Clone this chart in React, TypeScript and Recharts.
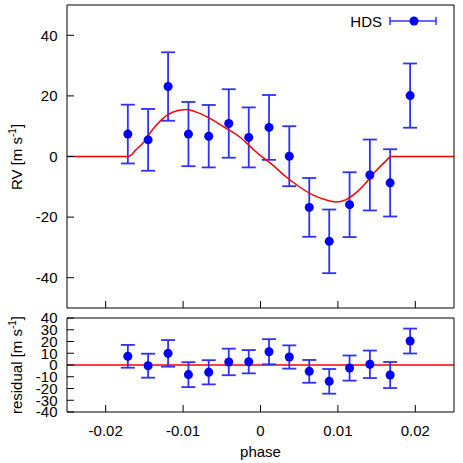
import {
  ComposedChart,
  XAxis,
  YAxis,
  Scatter,
  Line,
  ErrorBar,
  ReferenceLine,
  Legend,
} from 'recharts';

// observed points (HDS)
const phases = [
  -0.01714, -0.01452, -0.01194, -0.00931, -0.00669, -0.0041, -0.00152, 0.0011,
  0.00372, 0.0063, 0.00888, 0.01151, 0.01413, 0.01675, 0.01933,
];
const rvValues = [7.4, 5.5, 23.1, 7.4, 6.7, 10.9, 6.3, 9.6, 0.1, -16.8, -28.0, -15.9, -6.1, -8.7, 20.1];
const rvErrors = [9.7, 10.2, 11.3, 10.6, 10.3, 11.3, 9.9, 10.7, 9.9, 9.7, 10.5, 10.7, 11.7, 11.1, 10.6];
const residuals = [7.4, -0.6, 9.9, -8.2, -6.2, 2.6, 2.8, 11.3, 6.8, -5.4, -13.9, -2.6, 0.6, -8.5, 20.4];

// model curve
const modelPhases = [
  -0.025, -0.01706, -0.0161, -0.01503, -0.01396, -0.01267, -0.01138, -0.00965, -0.00794,
  -0.00622, -0.00449, -0.00277, -0.00106, -0.00019, 0.00152, 0.00325, 0.00497, 0.00668,
  0.00841, 0.0097, 0.011, 0.01228, 0.01357, 0.01486, 0.01615, 0.01688, 0.025,
];
const modelRv = [
  0, 0, 2.2, 4.9, 8.8, 12.4, 14.6, 15.5, 14.3, 12.1, 9.4, 6.6, 2.7, 0.7, -2.7, -6.6, -9.9,
  -12.6, -14.3, -15.0, -14.3, -12.1, -8.8, -4.9, -1.6, 0, 0,
];

const phaseTicks = [-0.02, -0.01, 0, 0.01, 0.02];
const rvTicks = [-40, -20, 0, 20, 40];
const residualTicks = [40, 30, 20, 10, 0, -10, -20, -30, -40];

const rvData = phases.map((p, i) => ({ phase: p, rv: rvValues[i], err: rvErrors[i] }));
const resData = phases.map((p, i) => ({ phase: p, res: residuals[i], err: rvErrors[i] }));
const modelData = modelPhases.map((p, i) => ({ phase: p, rv: modelRv[i] }));

const FONT = '"Liberation Sans", Arial, Helvetica, sans-serif';
const BLUE = '#0000ff';
const BAR = '#3030ff';
const RED = '#ff0000';
const TICK = { fill: '#000', fontSize: 15 };
const noLabel = () => '';

function AxisTitle({ text, cy }: { text: string; cy: number }) {
  const cx = 22;
  return (
    <text
      x={cx}
      y={cy}
      transform={`rotate(-90 ${cx} ${cy})`}
      textAnchor="middle"
      fontSize={15}
      fill="#000"
      fontFamily={FONT}
    >
      {text} [m s
      <tspan dy={-6} fontSize={10}>
        -1
      </tspan>
      <tspan dy={6}>]</tspan>
    </text>
  );
}

function HdsLegend() {
  return (
    <div style={{ display: 'flex', alignItems: 'center', height: 22, fontSize: 15, fontFamily: FONT, color: '#000' }}>
      <span style={{ width: 42, textAlign: 'right' }}>HDS</span>
      <svg width={52} height={22} style={{ marginLeft: 6 }}>
        <line x1={2} x2={48} y1={11} y2={11} stroke={BAR} strokeWidth={1.5} />
        <line x1={2} x2={2} y1={7} y2={15} stroke={BAR} strokeWidth={1.5} />
        <line x1={48} x2={48} y1={7} y2={15} stroke={BAR} strokeWidth={1.5} />
        <circle cx={26} cy={11} r={4.5} fill={BLUE} />
      </svg>
    </div>
  );
}

export default function App() {
  const axisCommon = {
    stroke: '#000',
    tickSize: -7,
    interval: 0 as const,
  };
  return (
    <div style={{ position: 'absolute', left: 0, top: 0, width: 463, height: 463, fontFamily: FONT, background: '#fff' }}>
      <div style={{ position: 'absolute', left: 0, top: 0 }}>
        <ComposedChart width={463} height={312} margin={{ top: 4, right: 8, bottom: 3, left: 0 }}>
          <XAxis
            dataKey="phase"
            type="number"
            domain={[-0.025, 0.025]}
            ticks={phaseTicks}
            height={1}
            tickFormatter={noLabel}
            {...axisCommon}
          />
          <XAxis
            xAxisId="t"
            orientation="top"
            dataKey="phase"
            type="number"
            domain={[-0.025, 0.025]}
            ticks={phaseTicks}
            height={1}
            tickFormatter={noLabel}
            {...axisCommon}
          />
          <YAxis
            type="number"
            domain={[-50, 50]}
            ticks={rvTicks}
            width={67}
            tickMargin={16.5}
            tick={TICK}
            label={<AxisTitle text="RV" cy={157} />}
            {...axisCommon}
          />
          <YAxis
            yAxisId="r"
            orientation="right"
            type="number"
            domain={[-50, 50]}
            ticks={rvTicks}
            width={1}
            tickFormatter={noLabel}
            {...axisCommon}
          />
          <Legend
            layout="horizontal"
            verticalAlign="middle"
            align="center"
            wrapperStyle={{ left: 340, top: 10, width: 110, height: 22 }}
            content={() => <HdsLegend />}
          />
          <Scatter data={rvData} dataKey="rv" fill={BLUE} isAnimationActive={false}>
            <ErrorBar dataKey="err" direction="y" width={7} stroke={BAR} strokeWidth={1.8} isAnimationActive={false} />
          </Scatter>
          <Line
            data={modelData}
            dataKey="rv"
            type="monotone"
            stroke={RED}
            strokeWidth={1.5}
            dot={false}
            activeDot={false}
            isAnimationActive={false}
          />
        </ComposedChart>
      </div>
      <div style={{ position: 'absolute', left: 0, top: 312 }}>
        <ComposedChart width={463} height={151} margin={{ top: 5, right: 8, bottom: 0, left: 0 }}>
          <XAxis
            dataKey="phase"
            type="number"
            domain={[-0.025, 0.025]}
            ticks={phaseTicks}
            height={51}
            tickMargin={20}
            tick={TICK}
            tickFormatter={(v: number) => String(v)}
            label={() => (
              <text x={260.5} y={144.5} textAnchor="middle" fontSize={15} fill="#000" fontFamily={FONT}>
                phase
              </text>
            )}
            {...axisCommon}
          />
          <XAxis
            xAxisId="t"
            orientation="top"
            dataKey="phase"
            type="number"
            domain={[-0.025, 0.025]}
            ticks={phaseTicks}
            height={1}
            tickFormatter={noLabel}
            {...axisCommon}
          />
          <YAxis
            type="number"
            domain={[-40, 40]}
            ticks={residualTicks}
            width={67}
            tickMargin={16.5}
            tick={TICK}
            label={<AxisTitle text="residual" cy={53} />}
            {...axisCommon}
          />
          <YAxis
            yAxisId="r"
            orientation="right"
            type="number"
            domain={[-40, 40]}
            ticks={residualTicks}
            width={1}
            tickFormatter={noLabel}
            {...axisCommon}
          />
          <ReferenceLine y={0} stroke={RED} strokeWidth={1.5} />
          <Scatter data={resData} dataKey="res" fill={BLUE} isAnimationActive={false}>
            <ErrorBar dataKey="err" direction="y" width={7} stroke={BAR} strokeWidth={1.8} isAnimationActive={false} />
          </Scatter>
        </ComposedChart>
      </div>
    </div>
  );
}
